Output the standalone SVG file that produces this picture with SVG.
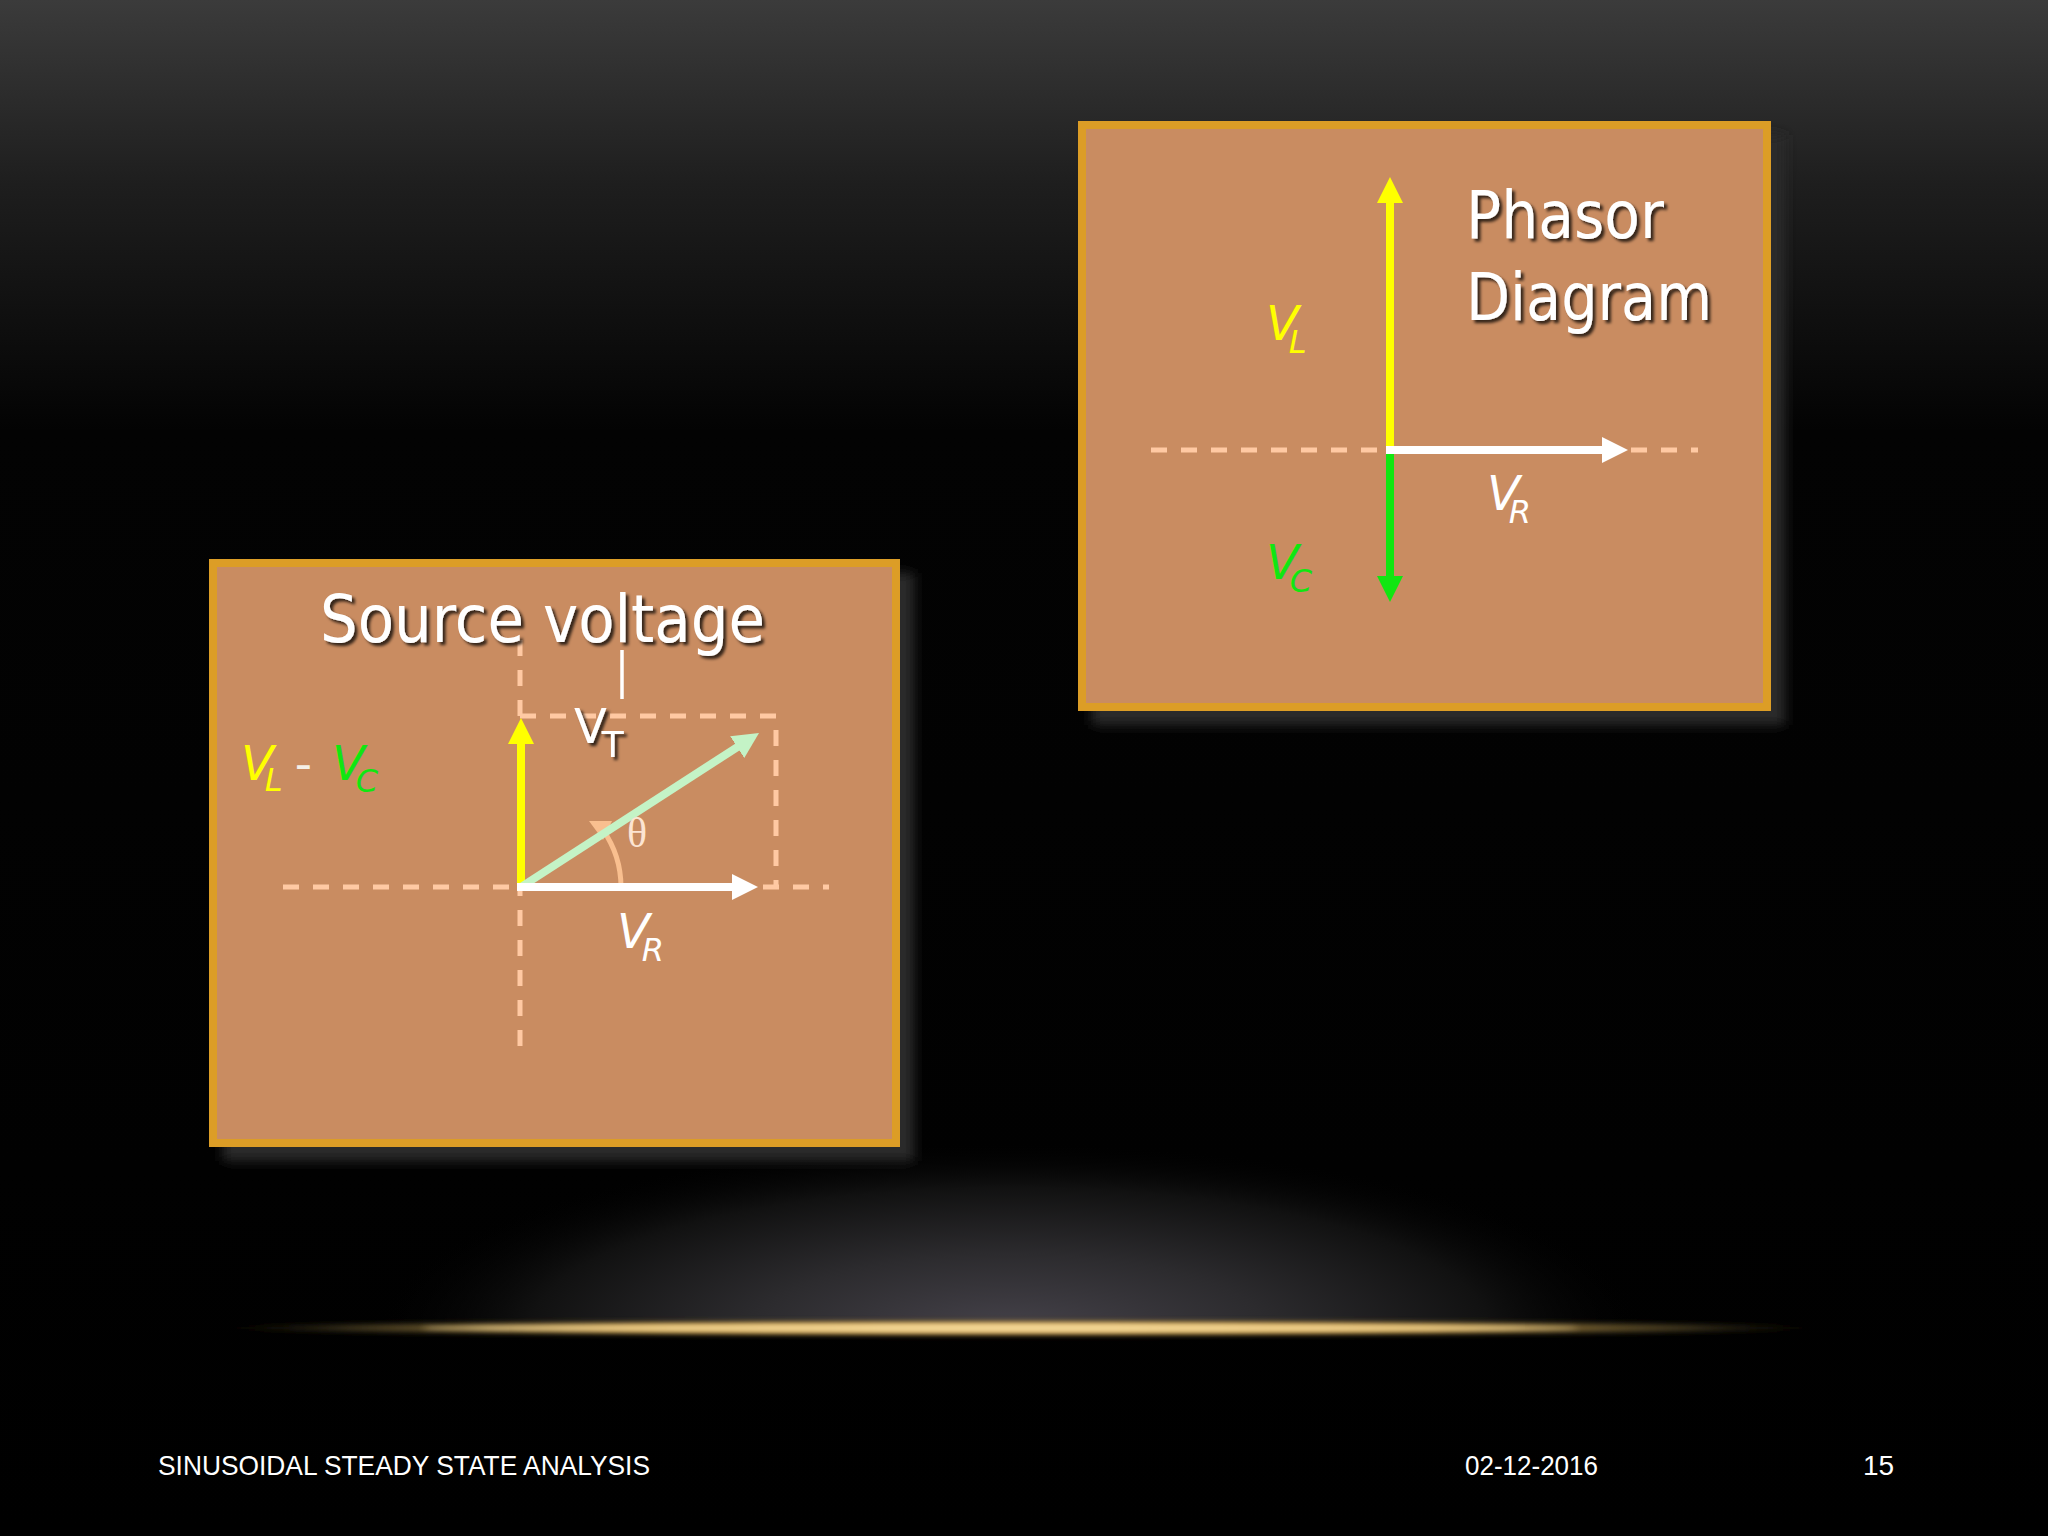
<svg xmlns="http://www.w3.org/2000/svg" width="2048" height="1536" viewBox="0 0 2048 1536">
<defs>
  <linearGradient id="bg" x1="0" y1="0" x2="0" y2="1">
    <stop offset="0" stop-color="#3b3b3b"/>
    <stop offset="0.12" stop-color="#1e1e1e"/>
    <stop offset="0.28" stop-color="#030303"/>
    <stop offset="1" stop-color="#000000"/>
  </linearGradient>
  <radialGradient id="glow" cx="0.5" cy="0.5" r="0.5">
    <stop offset="0" stop-color="#45424a"/>
    <stop offset="0.4" stop-color="#2c2b2e"/>
    <stop offset="0.75" stop-color="#111111"/>
    <stop offset="1" stop-color="#000000" stop-opacity="0"/>
  </radialGradient>
  <radialGradient id="gold" cx="0.5" cy="0.5" r="0.5">
    <stop offset="0" stop-color="#f6d792"/>
    <stop offset="0.5" stop-color="#c99a45"/>
    <stop offset="0.8" stop-color="#6a5a30" stop-opacity="0.6"/>
    <stop offset="1" stop-color="#000" stop-opacity="0"/>
  </radialGradient>
  <filter id="blur6" x="-10%" y="-10%" width="120%" height="120%"><feGaussianBlur stdDeviation="6"/></filter>
  <filter id="blur2" x="-5%" y="-200%" width="110%" height="500%"><feGaussianBlur stdDeviation="2.5"/></filter>
  <filter id="tshadow" x="-10%" y="-20%" width="120%" height="150%">
    <feDropShadow dx="3" dy="3" stdDeviation="1.5" flood-color="#000" flood-opacity="0.75"/>
  </filter>
  <clipPath id="aboveLine"><rect x="0" y="1100" width="2048" height="230"/></clipPath>
  <marker id="ahY" viewBox="0 0 26 26" refX="8" refY="13" markerWidth="26" markerHeight="26" markerUnits="userSpaceOnUse" orient="auto"><path d="M0,0 L26,13 L0,26 z" fill="#ffff00"/></marker>
  <marker id="ahG" viewBox="0 0 26 26" refX="8" refY="13" markerWidth="26" markerHeight="26" markerUnits="userSpaceOnUse" orient="auto"><path d="M0,0 L26,13 L0,26 z" fill="#11e611"/></marker>
  <marker id="ahW" viewBox="0 0 26 26" refX="8" refY="13" markerWidth="26" markerHeight="26" markerUnits="userSpaceOnUse" orient="auto"><path d="M0,0 L26,13 L0,26 z" fill="#ffffff"/></marker>
  <marker id="ahL" viewBox="0 0 26 26" refX="8" refY="13" markerWidth="26" markerHeight="26" markerUnits="userSpaceOnUse" orient="auto"><path d="M0,0 L26,13 L0,26 z" fill="#c4f3c6"/></marker>
</defs>
<style>
  .box { fill: #c98c61; stroke: #dc9d26; stroke-width: 8; }
  .shadow { fill: #2a2a2a; }
  .dash { fill: none; stroke: #ffc9a3; stroke-width: 5; stroke-dasharray: 16 14; }
  .title { font-family: "DejaVu Sans", Verdana, sans-serif; font-size: 66px; fill: #ffffff; }
  .lbl { font-family: "DejaVu Sans", Verdana, sans-serif; font-style: italic; font-size: 48px; }
  .sub { font-size: 32px; }
  .foot { font-family: "Liberation Sans", Arial, sans-serif; font-size: 28px; fill: #ffffff; }
  .vec { fill: none; stroke-width: 8; }
</style>

<!-- background -->
<rect x="0" y="0" width="2048" height="1536" fill="url(#bg)"/>
<g clip-path="url(#aboveLine)">
  <ellipse cx="1010" cy="1330" rx="640" ry="190" fill="url(#glow)"/>
</g>
<ellipse cx="1020" cy="1328" rx="840" ry="9" fill="url(#gold)" filter="url(#blur2)"/>
<ellipse cx="1000" cy="1328" rx="580" ry="3.5" fill="#f7dc9c" opacity="0.85" filter="url(#blur2)"/>

<!-- right box: Phasor Diagram -->
<g id="phasor-box">
  <rect class="shadow" x="1092" y="135" width="693" height="590" filter="url(#blur6)"/>
  <rect class="box" x="1082" y="125" width="685" height="582"/>
  <text class="title" x="1466" y="238" textLength="198" lengthAdjust="spacingAndGlyphs" filter="url(#tshadow)">Phasor</text>
  <text class="title" x="1466" y="320" textLength="246" lengthAdjust="spacingAndGlyphs" filter="url(#tshadow)">Diagram</text>
</g>
<g id="phasor-axis">
  <line class="dash" x1="1151" y1="450" x2="1698" y2="450"/>
</g>
<g id="connectors-phasor">
  <line class="vec" x1="1390" y1="450" x2="1390" y2="195" stroke="#ffff00" marker-end="url(#ahY)"/>
  <line class="vec" x1="1390" y1="450" x2="1390" y2="584" stroke="#11e611" marker-end="url(#ahG)"/>
  <line class="vec" x1="1386" y1="450" x2="1610" y2="450" stroke="#ffffff" marker-end="url(#ahW)"/>
</g>
<g id="phasor-labels">
  <text class="lbl" x="1266" y="340" fill="#ffff00">V<tspan class="sub" dx="-10" dy="13">L</tspan></text>
  <text class="lbl" x="1266" y="579" fill="#11e611">V<tspan class="sub" dx="-9" dy="13">C</tspan></text>
  <text class="lbl" x="1487" y="510" fill="#ffffff">V<tspan class="sub" dx="-11" dy="13">R</tspan></text>
</g>

<!-- left box: Source voltage -->
<g id="source-box">
  <rect class="shadow" x="223" y="573" width="691" height="588" filter="url(#blur6)"/>
  <rect class="box" x="213" y="563" width="683" height="580"/>
</g>
<g id="source-guides">
  <line class="dash" x1="520" y1="640" x2="520" y2="1053"/>
  <line class="dash" x1="283" y1="887" x2="829" y2="887"/>
  <path class="dash" d="M520,716 H776 V887"/>
  <line x1="622" y1="650" x2="622" y2="699" stroke="#ffffff" stroke-width="3.5"/>
</g>
<g id="source-title">
  <text class="title" x="320" y="642" textLength="445" lengthAdjust="spacingAndGlyphs" filter="url(#tshadow)">Source voltage</text>
</g>
<g id="connectors-source">
  <line class="vec" x1="521" y1="891" x2="521" y2="736" stroke="#ffff00" marker-end="url(#ahY)"/>
  <path d="M621,887 A100,100 0 0 0 603,830" fill="none" stroke="#f9bf8f" stroke-width="5"/>
  <polygon points="589,821 612,821 603,840" fill="#f9bf8f"/>
  <line class="vec" x1="521" y1="887" x2="743.9" y2="742.8" stroke="#c4f3c6" marker-end="url(#ahL)"/>
  <line class="vec" x1="517" y1="887" x2="740" y2="887" stroke="#ffffff" marker-end="url(#ahW)"/>
</g>
<g id="source-labels">
  <text x="574" y="743" font-family="DejaVu Sans, Verdana, sans-serif" font-size="48" fill="#ffffff" filter="url(#tshadow)">V<tspan font-size="36" dx="-5" dy="14">T</tspan></text>
  <text x="627" y="847" font-family="Liberation Serif, Times New Roman, serif" font-size="42" fill="#fce4d2">θ</text>
  <text class="lbl" x="617" y="948" fill="#ffffff">V<tspan class="sub" dx="-8" dy="13">R</tspan></text>
  <text class="lbl" x="241" y="780" fill="#ffff00">V<tspan class="sub" dx="-9" dy="11">L</tspan><tspan fill="#f4f0e8" font-style="normal" dx="12" dy="-11">-</tspan><tspan fill="#11e611" dx="20">V</tspan><tspan class="sub" fill="#11e611" dx="-9" dy="12">C</tspan></text>
</g>

<!-- footer -->
<g id="footer">
  <text class="foot" x="158" y="1475" textLength="492" lengthAdjust="spacingAndGlyphs">SINUSOIDAL STEADY STATE ANALYSIS</text>
  <text class="foot" x="1465" y="1475" textLength="133" lengthAdjust="spacingAndGlyphs">02-12-2016</text>
  <text class="foot" x="1863" y="1475">15</text>
</g>
</svg>
